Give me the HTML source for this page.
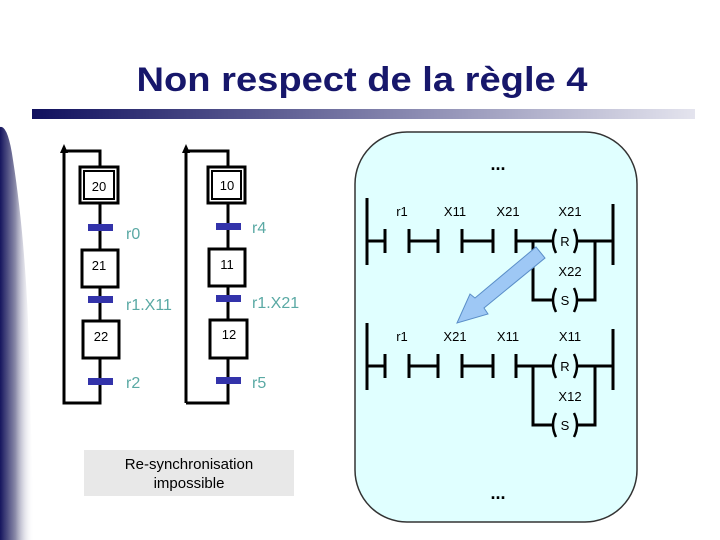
<!DOCTYPE html>
<html><head><meta charset="utf-8"><style>
body{margin:0;background:#fff;}
svg{display:block;}
text{font-family:"Liberation Sans",sans-serif;}
</style></head><body>
<svg width="720" height="540" viewBox="0 0 720 540" xmlns="http://www.w3.org/2000/svg">
<defs>
<linearGradient id="bar" x1="0" x2="1" y1="0" y2="0"><stop offset="0" stop-color="#10105e"/><stop offset="1" stop-color="#e4e4ee"/></linearGradient>
<linearGradient id="side" x1="0" x2="1" y1="0" y2="0"><stop offset="0" stop-color="#15155e"/><stop offset="0.45" stop-color="#8a8aa8"/><stop offset="1" stop-color="#fff" stop-opacity="0"/></linearGradient>
</defs>
<path d="M0,127 Q8,125 13,160 Q24,230 28,320 L34,540 L0,540 Z" fill="url(#side)"/>
<text x="362" y="91" text-anchor="middle" font-size="34" font-weight="bold" fill="#17176b" textLength="451" lengthAdjust="spacingAndGlyphs">Non respect de la règle 4</text>
<rect x="32" y="109" width="663" height="10" fill="url(#bar)"/>

<!-- Grafcet 1 -->
<g stroke="#000" stroke-width="3" fill="none">
<polyline points="100,166 100,151 64,151 64,403 100,403 100,358"/>
<line x1="100" y1="204" x2="100" y2="250"/><line x1="100" y1="287" x2="100" y2="321"/>
<rect x="80" y="167" width="38" height="36"/><rect x="84" y="171" width="30" height="28" stroke-width="2"/>
<rect x="82" y="250" width="36" height="37"/>
<rect x="83" y="321" width="36" height="37"/>
<polyline points="186,403 228,403 228,358"/><polyline points="228,166 228,151 186,151 186,403"/>
<line x1="228" y1="204" x2="228" y2="249"/><line x1="228" y1="286" x2="228" y2="320"/>
<rect x="208" y="167" width="37" height="36"/><rect x="212" y="171" width="29" height="28" stroke-width="2"/>
<rect x="209" y="249" width="36" height="37"/>
<rect x="210" y="320" width="37" height="38"/>
</g>
<polygon points="64,144 60,153 68,153" fill="#000"/>
<polygon points="186,144 182,153 190,153" fill="#000"/>
<g fill="#3333aa">
<rect x="88" y="224" width="25" height="7"/><rect x="88" y="296" width="25" height="7"/><rect x="88" y="378" width="25" height="7"/>
<rect x="216" y="223" width="25" height="7"/><rect x="216" y="295" width="25" height="7"/><rect x="216" y="377" width="25" height="7"/>
</g>
<g font-size="13" fill="#000" text-anchor="middle">
<text x="99" y="191">20</text><text x="99" y="270">21</text><text x="101" y="341">22</text>
<text x="227" y="190">10</text><text x="227" y="269">11</text><text x="229" y="339">12</text>
</g>
<g font-size="16" fill="#5aa9a4">
<text x="126" y="239">r0</text><text x="126" y="310">r1.X11</text><text x="126" y="388">r2</text>
<text x="252" y="233">r4</text><text x="252" y="308">r1.X21</text><text x="252" y="388">r5</text>
</g>
<rect x="84" y="450" width="210" height="46" fill="#e8e8e8"/>
<text x="189" y="469" font-size="15" text-anchor="middle">Re-synchronisation</text>
<text x="189" y="488" font-size="15" text-anchor="middle">impossible</text>

<!-- Panel -->
<rect x="355" y="132" width="282" height="390" rx="52" fill="#e0ffff" stroke="#333" stroke-width="1.5"/>
<text x="498" y="170" font-size="18" font-weight="bold" text-anchor="middle">...</text>
<text x="498" y="499" font-size="18" font-weight="bold" text-anchor="middle">...</text>

<g id="rung1" stroke="#000" stroke-width="3" fill="none">
<line x1="367" y1="198" x2="367" y2="265"/>
<line x1="367" y1="241" x2="385" y2="241"/><line x1="385" y1="229" x2="385" y2="253"/>
<line x1="409" y1="229" x2="409" y2="253"/><line x1="409" y1="241" x2="438" y2="241"/><line x1="438" y1="229" x2="438" y2="253"/>
<line x1="462" y1="229" x2="462" y2="253"/><line x1="462" y1="241" x2="493" y2="241"/><line x1="493" y1="229" x2="493" y2="253"/>
<line x1="516" y1="229" x2="516" y2="253"/><line x1="516" y1="241" x2="552" y2="241"/>
<path d="M556,229 Q550,241 556,253" stroke-width="2.5"/><path d="M574,229 Q580,241 574,253" stroke-width="2.5"/>
<line x1="578" y1="241" x2="613" y2="241"/><line x1="613" y1="204" x2="613" y2="265"/>
<polyline points="533,241 533,300 552,300"/>
<path d="M556,288 Q550,300 556,312" stroke-width="2.5"/><path d="M574,288 Q580,300 574,312" stroke-width="2.5"/>
<polyline points="578,300 595,300 595,241"/>
</g>
<use href="#rung1" transform="translate(0,125)"/>
<g font-size="13" fill="#000" text-anchor="middle">
<text x="402" y="216">r1</text><text x="455" y="216">X11</text><text x="508" y="216">X21</text><text x="570" y="216">X21</text>
<text x="565" y="246">R</text><text x="570" y="276">X22</text><text x="565" y="305">S</text>
<text x="402" y="341">r1</text><text x="455" y="341">X21</text><text x="508" y="341">X11</text><text x="570" y="341">X11</text>
<text x="565" y="371">R</text><text x="570" y="401">X12</text><text x="565" y="430">S</text>
</g>
<polygon points="536,247 545,258 484,308 488,314 457,323 470,294 475,298" fill="#9ec8f5" stroke="#5a8ec8" stroke-width="1"/>
</svg>
</body></html>
